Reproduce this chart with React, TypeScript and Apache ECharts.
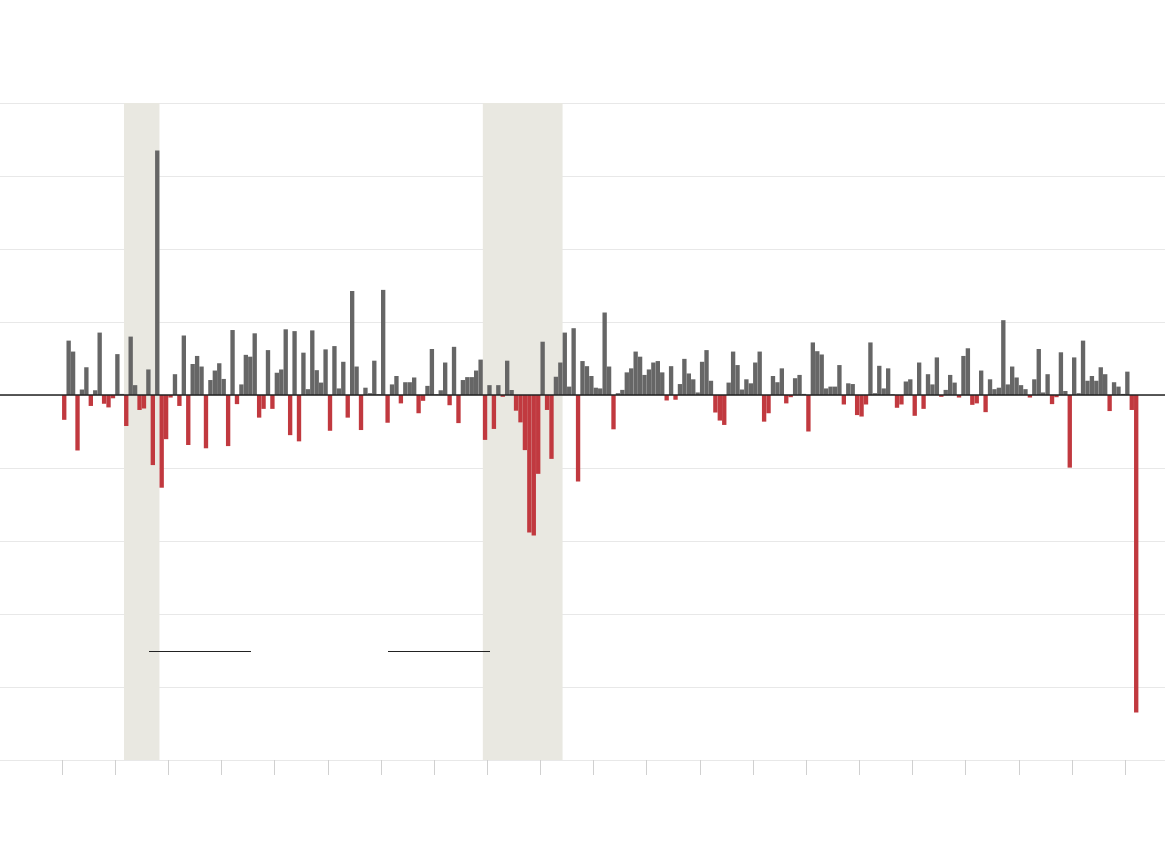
import React, { useEffect, useRef } from "react";
import * as echarts from "echarts";

// Monthly % change, one array per year (Jan..Dec)
const START_YEAR = 2000;
const y2000 = [-0.68, 1.49, 1.19, -1.52, 0.15, 0.76, -0.3, 0.13, 1.71, -0.24, -0.34, -0.09];
const y2001 = [1.12, 0.03, -0.85, 1.6, 0.27, -0.41, -0.37, 0.7, -1.92, 6.7, -2.54, -1.21];
const y2002 = [-0.07, 0.57, -0.3, 1.63, -1.37, 0.85, 1.07, 0.78, -1.46, 0.41, 0.67, 0.87];
const y2003 = [0.44, -1.4, 1.78, -0.25, 0.29, 1.1, 1.05, 1.69, -0.62, -0.38, 1.23, -0.38];
const y2004 = [0.61, 0.7, 1.8, -1.1, 1.75, -1.27, 1.16, 0.16, 1.77, 0.68, 0.34, 1.25];
const y2005 = [-0.98, 1.34, 0.18, 0.91, -0.62, 2.85, 0.78, -0.96, 0.2, 0.05, 0.94, 0.02];
const y2006 = [2.88, -0.76, 0.29, 0.52, -0.23, 0.35, 0.35, 0.48, -0.5, -0.16, 0.25, 1.26];
const y2007 = [0.02, 0.13, 0.89, -0.28, 1.32, -0.77, 0.41, 0.49, 0.49, 0.67, 0.97, -1.23];
const y2008 = [0.27, -0.93, 0.27, -0.05, 0.94, 0.14, -0.43, -0.75, -1.51, -3.77, -3.85, -2.16];
const y2009 = [1.46, -0.41, -1.75, 0.5, 0.89, 1.71, 0.23, 1.83, -2.37, 0.93, 0.79, 0.52];
const y2010 = [0.2, 0.18, 2.26, 0.78, -0.94, 0.05, 0.14, 0.62, 0.73, 1.19, 1.05, 0.55];
const y2011 = [0.7, 0.89, 0.93, 0.62, -0.15, 0.79, -0.13, 0.3, 0.99, 0.59, 0.43, 0.07];
const y2012 = [0.91, 1.23, 0.39, -0.48, -0.7, -0.82, 0.34, 1.19, 0.82, 0.15, 0.43, 0.32];
const y2013 = [0.89, 1.19, -0.73, -0.5, 0.52, 0.35, 0.73, -0.23, -0.06, 0.46, 0.55, 0.03];
const y2014 = [-1.0, 1.44, 1.2, 1.11, 0.18, 0.23, 0.23, 0.82, -0.26, 0.32, 0.3, -0.55];
const y2015 = [-0.59, -0.26, 1.44, 0.05, 0.8, 0.18, 0.73, 0.02, -0.35, -0.26, 0.37, 0.43];
const y2016 = [-0.57, 0.89, -0.38, 0.57, 0.29, 1.03, -0.05, 0.14, 0.55, 0.34, -0.07, 1.07];
const y2017 = [1.28, -0.27, -0.23, 0.67, -0.47, 0.43, 0.16, 0.2, 2.05, 0.29, 0.78, 0.48];
const y2018 = [0.27, 0.16, -0.07, 0.43, 1.26, 0.07, 0.57, -0.25, -0.06, 1.17, 0.11, -1.99];
const y2019 = [1.03, 0.05, 1.49, 0.39, 0.52, 0.39, 0.76, 0.57, -0.44, 0.35, 0.23, 0.03];
const y2020 = [0.64, -0.41, -8.7];

const YEARS = [
  y2000, y2001, y2002, y2003, y2004, y2005, y2006, y2007, y2008, y2009, y2010,
  y2011, y2012, y2013, y2014, y2015, y2016, y2017, y2018, y2019, y2020,
];

// Year ticks (unlabelled) at the start of each year
const TICK_YEARS = [
  2000, 2001, 2002, 2003, 2004, 2005, 2006, 2007, 2008, 2009, 2010,
  2011, 2012, 2013, 2014, 2015, 2016, 2017, 2018, 2019, 2020,
];

// Recessions: [start year, start month (1-12), end year, end month]
const RECESSIONS = [
  [2001, 3, 2001, 11],
  [2007, 12, 2009, 6],
];

const GRAY = "#666666";
const RED = "#c1393f";

function monthIndex(year: number, month: number) {
  return (year - START_YEAR) * 12 + (month - 1);
}

export default function App() {
  const ref = useRef<HTMLDivElement>(null);

  useEffect(() => {
    if (!ref.current) return;
    const chart = echarts.init(ref.current, null, { renderer: "svg" });

    const values: number[] = [];
    YEARS.forEach((arr) => arr.forEach((v) => values.push(v)));

    const data = values.map((v, i) => ({
      value: [i + 0.5, v],
      itemStyle: { color: v < 0 ? RED : GRAY },
    }));

    const tickValues = TICK_YEARS.map((y) => monthIndex(y, 1));

    const areas = RECESSIONS.map(([sy, sm, ey, em]) => [
      { xAxis: monthIndex(sy, sm) },
      { xAxis: monthIndex(ey, em) },
    ]);

    chart.setOption({
      animation: false,
      backgroundColor: "#ffffff",
      grid: { left: 0, right: 5, top: 103, bottom: 100 },
      xAxis: {
        type: "value",
        min: -14,
        max: 249,
        splitLine: { show: false },
        axisLine: { show: false, onZero: false },
        axisLabel: { show: false },
        axisTick: {
          show: true,
          length: 15,
          customValues: tickValues,
          lineStyle: { color: "#d0d0d0", width: 1 },
        },
      },
      yAxis: {
        type: "value",
        min: -10,
        max: 8,
        interval: 2,
        axisLine: { show: false },
        axisTick: { show: false },
        axisLabel: { show: false },
        splitLine: { show: true, lineStyle: { color: "#e8e8e8", width: 1 } },
      },
      series: [
        {
          type: "bar",
          barWidth: 4.35,
          data,
          markArea: {
            silent: true,
            itemStyle: { color: "#e9e8e1" },
            data: areas,
          },
          markLine: {
            silent: true,
            symbol: ["none", "none"],
            label: { show: false },
            lineStyle: { color: "#222222", width: 1.5, type: "solid" },
            data: [{ yAxis: 0 }],
          },
        },
      ],
      graphic: [
        {
          type: "line",
          z: 100,
          shape: { x1: 149, y1: 651.5, x2: 251, y2: 651.5 },
          style: { stroke: "#222", lineWidth: 1 },
        },
        {
          type: "line",
          z: 100,
          shape: { x1: 388, y1: 651.5, x2: 490, y2: 651.5 },
          style: { stroke: "#222", lineWidth: 1 },
        },
      ],
    });

    return () => chart.dispose();
  }, []);

  return (
    <div
      ref={ref}
      style={{ position: "absolute", left: 0, top: 0, width: 1170, height: 860 }}
    />
  );
}
